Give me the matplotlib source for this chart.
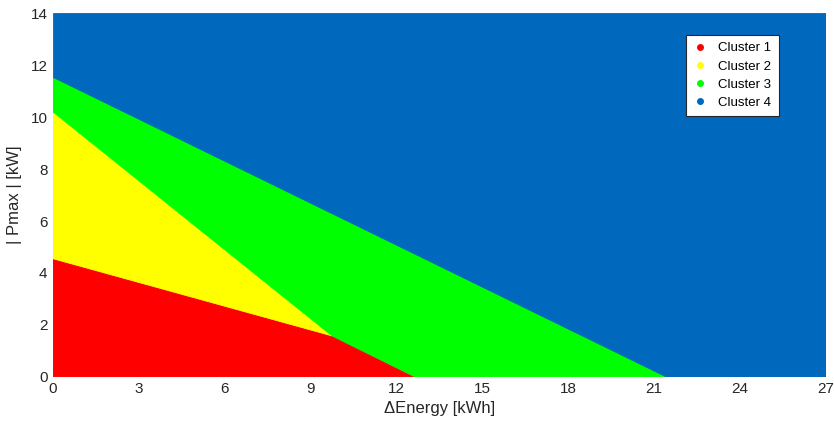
import matplotlib
matplotlib.use("Agg")
import matplotlib.pyplot as plt
from matplotlib.lines import Line2D

plt.rcParams['font.family'] = ['Liberation Sans', 'DejaVu Sans']

# Region boundary vertices (ΔEnergy [kWh], |Pmax| [kW])
cluster_names = ["Cluster 1", "Cluster 2", "Cluster 3", "Cluster 4"]
cluster_colors = ["#FF0000", "#FFFF00", "#00FF00", "#0068BD"]
c1_x = [0, 0, 9.75, 12.65]
c1_y = [0, 4.55, 1.58, 0]
c2_x = [0, 0, 9.75]
c2_y = [4.55, 10.2, 1.58]
c3_x = [0, 0, 21.45, 12.65, 9.75]
c3_y = [10.2, 11.55, 0, 0, 1.58]
c4_x = [0, 0, 27, 27, 21.45]
c4_y = [11.55, 14, 14, 0, 0]
x_ticks = [0, 3, 6, 9, 12, 15, 18, 21, 24, 27]
y_ticks = [0, 2, 4, 6, 8, 10, 12, 14]

fig = plt.figure(figsize=(8.34, 4.24), dpi=100)
ax = fig.add_axes([0.0636, 0.111, 0.9264, 0.858])

for xs, ys, col in zip([c1_x, c2_x, c3_x, c4_x], [c1_y, c2_y, c3_y, c4_y], cluster_colors):
    ax.fill(xs, ys, color=col, lw=0.6, ec=col)

ax.set_xlim(0, 27)
ax.set_ylim(0, 14)
ax.set_xticks(x_ticks)
ax.set_yticks(y_ticks)
ax.tick_params(length=0, labelsize=11, labelcolor="#262626", pad=4)
for s in ax.spines.values():
    s.set_visible(False)
ax.set_xlabel("ΔEnergy [kWh]", fontsize=12, color="#262626", labelpad=3)
ax.set_ylabel("| Pmax | [kW]", fontsize=12, color="#262626", labelpad=6)

handles = [Line2D([], [], ls="none", marker="o", ms=4, color=c) for c in cluster_colors]
leg = ax.legend(handles, cluster_names, loc="upper right", bbox_to_anchor=(0.939, 0.94),
                fontsize=9.5, frameon=True, fancybox=False, edgecolor="#262626",
                framealpha=1, handletextpad=0.9, borderpad=0.55, labelspacing=0.45,
                handlelength=1.0, borderaxespad=0)
leg.get_frame().set_linewidth(0.8)

fig.savefig("out.png", dpi=100)
